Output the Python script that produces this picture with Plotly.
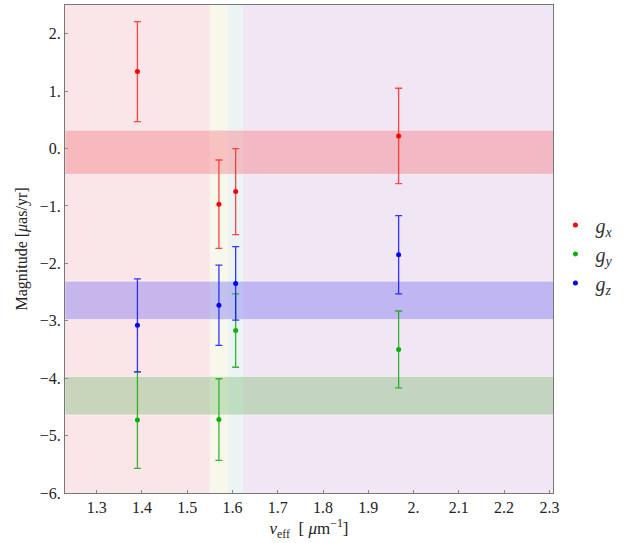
import plotly.graph_objects as go

# ---- data ----
nu_eff = [1.39, 1.57, 1.607, 1.967]
gx = [1.34, -0.97, -0.75, 0.22]
gx_err = [0.87, 0.77, 0.75, 0.83]
gy = [-4.73, -4.72, -3.17, -3.50]
gy_err = [0.84, 0.71, 0.64, 0.67]
gz = [-3.08, -2.73, -2.35, -1.85]
gz_err = [0.81, 0.70, 0.64, 0.68]

# vertical background bands (x ranges) and colours
vband_x0 = [1.23, 1.55, 1.59, 1.623]
vband_x1 = [1.55, 1.59, 1.623, 2.31]
vband_col = ["#FAE6E8", "#F7F7EB", "#EBF3F3", "#F1E6F3"]

# horizontal bands (y ranges)
hband_y0 = [-0.45, -2.98, -4.64]
hband_y1 = [0.32, -2.31, -3.97]
hband_col = ["rgba(245,130,140,0.45)", "rgba(120,110,240,0.40)", "rgba(110,180,100,0.35)"]

yticks = [2, 1, 0, -1, -2, -3, -4, -5, -6]
yticktext = ["2.", "1.", "0.", "−1.", "−2.", "−3.", "−4.", "−5.", "−6."]
xticks = [1.3, 1.4, 1.5, 1.6, 1.7, 1.8, 1.9, 2.0, 2.1, 2.2, 2.3]
xticktext = ["1.3", "1.4", "1.5", "1.6", "1.7", "1.8", "1.9", "2.", "2.1", "2.2", "2.3"]

fig = go.Figure()

shapes = []
for x0, x1, c in zip(vband_x0, vband_x1, vband_col):
    shapes.append(dict(type="rect", xref="x", yref="y", x0=x0, x1=x1, y0=-6, y1=2.5,
                       fillcolor=c, line=dict(width=0), layer="below"))
for y0, y1, c in zip(hband_y0, hband_y1, hband_col):
    shapes.append(dict(type="rect", xref="x", yref="y", x0=1.23, x1=2.31, y0=y0, y1=y1,
                       fillcolor=c, line=dict(width=1, color="rgba(255,255,255,0.5)"), layer="below"))

series = [
    ("<i>g</i><sub><i>x</i></sub>", gx, gx_err, "rgb(255,0,0)", "rgba(255,40,40,0.85)"),
    ("<i>g</i><sub><i>y</i></sub>", gy, gy_err, "rgb(0,180,0)", "rgba(20,170,20,0.85)"),
    ("<i>g</i><sub><i>z</i></sub>", gz, gz_err, "rgb(0,0,255)", "rgba(20,20,255,0.85)"),
]
for name, y, e, mc, ec in series:
    fig.add_trace(go.Scatter(
        x=nu_eff, y=y, mode="markers", name=name,
        marker=dict(color=mc, size=5),
        error_y=dict(type="data", array=e, visible=True, color=ec, thickness=1.3, width=3.5),
    ))

font_family = "Times New Roman, Liberation Serif, serif"
fig.update_layout(
    width=632, height=543,
    margin=dict(l=65, r=79, t=5, b=50),
    paper_bgcolor="white", plot_bgcolor="white",
    shapes=shapes,
    font=dict(family=font_family, size=16, color="#222"),
    showlegend=True,
    legend=dict(x=1.005, y=0.49, xanchor="left", yanchor="middle",
                font=dict(family=font_family, size=20, color="#333"),
                itemwidth=30, tracegroupgap=0, bgcolor="rgba(0,0,0,0)"),
)
fig.update_xaxes(
    range=[1.23, 2.308], tickvals=xticks, ticktext=xticktext,
    ticks="inside", ticklen=3, tickcolor="#888", showgrid=False, zeroline=False,
    showline=True, linecolor="#777", linewidth=1, mirror=True,
    tickfont=dict(family=font_family, size=16, color="#222"),
    title=dict(text="<i>ν</i><sub>eff</sub>  [ <i>μ</i>m<sup>−1</sup>]",
               font=dict(family=font_family, size=17), standoff=4),
)
fig.update_yaxes(
    range=[-6, 2.5], tickvals=yticks, ticktext=yticktext,
    ticks="inside", ticklen=3, tickcolor="#888", showgrid=False, zeroline=False,
    showline=True, linecolor="#777", linewidth=1, mirror=True,
    tickfont=dict(family=font_family, size=16, color="#222"),
    title=dict(text="Magnitude [<i>μ</i>as/yr]", font=dict(family=font_family, size=16), standoff=8),
)

fig.write_html("out.html")
